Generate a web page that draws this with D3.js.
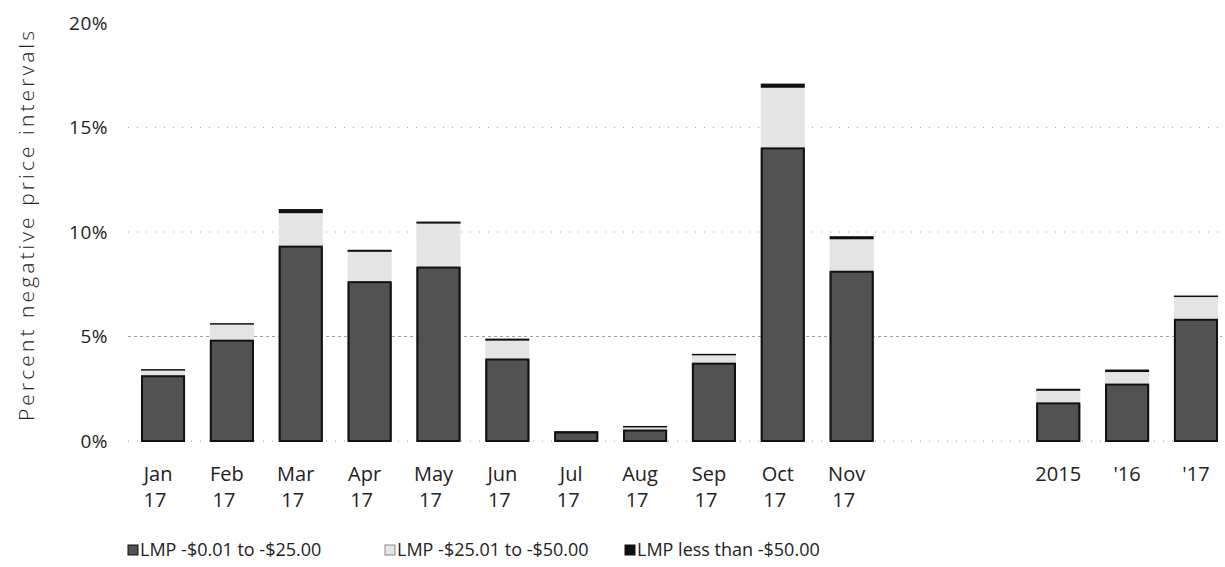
<!DOCTYPE html>
<html lang="en">
<head>
<meta charset="UTF-8">
<title>Negative price intervals</title>
<style>
  body { margin: 0; background: #fff; }
  svg text { font-family: "Open Sans", "DejaVu Sans", sans-serif; fill: #222; }
</style>
</head>
<body>
<svg width="1225" height="567" id="svg"></svg>
<script src="https://d3js.org/d3.v7.min.js"></script>
<script>
    // categories (two empty slots separate the months from the yearly bars)
    const categories = ["Jan", "Feb", "Mar", "Apr", "May", "Jun", "Jul", "Aug", "Sep", "Oct", "Nov", "gap1", "gap2", "2015", "'16", "'17"]
    const labelTop = ["Jan", "Feb", "Mar", "Apr", "May", "Jun", "Jul", "Aug", "Sep", "Oct", "Nov", "", "", "2015", "'16", "'17"]
    const labelBottom = ["17", "17", "17", "17", "17", "17", "17", "17", "17", "17", "17", "", "", "", "", ""]
    const barCategories = ["Jan", "Feb", "Mar", "Apr", "May", "Jun", "Jul", "Aug", "Sep", "Oct", "Nov", "2015", "'16", "'17"]

    // percent of intervals, per price band
    const lmp0to25 = [3.1, 4.8, 9.3, 7.6, 8.3, 3.9, 0.4, 0.5, 3.7, 14.0, 8.1, 1.8, 2.7, 5.8]
    const lmp25to50 = [0.3, 0.8, 1.6, 1.45, 2.1, 0.9, 0.05, 0.2, 0.45, 2.9, 1.55, 0.6, 0.6, 1.1]
    const lmpBelow50 = [0.04, 0.04, 0.2, 0.1, 0.1, 0.1, 0.02, 0.02, 0.02, 0.2, 0.15, 0.1, 0.12, 0.06]

    const seriesNames = ["LMP -$0.01 to -$25.00", "LMP -$25.01 to -$50.00", "LMP less than -$50.00"]
    const yTicks = [0, 5, 10, 15, 20]

    const colors = ["#525252", "#e4e4e4", "#111111"]

    const svg = d3.select("svg#svg")

    const rows = barCategories.map((c, i) => ({
        cat: c,
        s0: lmp0to25[i],
        s1: lmp25to50[i],
        s2: lmpBelow50[i]
    }))
    const stacked = d3.stack().keys(["s0", "s1", "s2"])(rows)

    const xScale = d3.scaleBand().domain(categories).range([141, 1218]).paddingInner(0.36).paddingOuter(0)
    const yScale = d3.scaleLinear().domain([0, 20]).range([441, 23])

    // dotted gridlines
    svg.append("g").selectAll("line").data(yTicks.filter(d => d < 20)).join("line")
        .attr("x1", 128).attr("x2", 1222)
        .attr("y1", d => yScale(d)).attr("y2", d => yScale(d))
        .attr("stroke", "#a0a0a0")
        .attr("stroke-width", 1)
        .attr("stroke-dasharray", d => d === 5 ? "3,3" : "1,8")

    // y axis
    const yAxis = d3.axisLeft(yScale).tickValues(yTicks).tickFormat(d => d + "%").tickSize(0).tickPadding(4)
    const gy = svg.append("g").attr("transform", "translate(112,0)").call(yAxis)
    gy.select(".domain").remove()
    gy.selectAll("text").attr("font-size", 19).attr("letter-spacing", 0.5).attr("fill", "#222").style("font-family", null)

    svg.append("text")
        .attr("transform", "translate(34,226) rotate(-90)")
        .attr("text-anchor", "middle")
        .attr("font-size", 21)
        .attr("font-weight", 300)
        .attr("textLength", 390)
        .text("Percent negative price intervals")

    // bars
    svg.append("g").selectAll("g").data(stacked).join("g")
        .attr("fill", (d, i) => colors[i])
        .selectAll("rect").data(d => d).join("rect")
        .attr("x", d => xScale(d.data.cat))
        .attr("width", xScale.bandwidth())
        .attr("y", d => yScale(d[1]))
        .attr("height", d => Math.max(yScale(d[0]) - yScale(d[1]), 1.5))

    // dark edges on the main band
    svg.append("g").selectAll("rect").data(stacked[0]).join("rect")
        .attr("x", d => xScale(d.data.cat) + 1)
        .attr("width", xScale.bandwidth() - 2)
        .attr("y", d => yScale(d[1]))
        .attr("height", d => yScale(d[0]) - yScale(d[1]))
        .attr("fill", "none")
        .attr("stroke", "#111")
        .attr("stroke-width", 2)

    // x axis, two-line month labels
    const xAxis = d3.axisBottom(xScale).tickSize(0).tickFormat("")
    const gx = svg.append("g").attr("transform", "translate(0,441)").call(xAxis)
    gx.select(".domain").remove()
    gx.selectAll(".tick text").each(function (d) {
        const i = categories.indexOf(d)
        const shift = i < 11 ? -5 : 0
        const t = d3.select(this).attr("y", 26).attr("dy", "0.71em")
            .attr("font-size", 20).attr("fill", "#222").style("font-family", null)
        t.append("tspan").attr("x", shift).text(labelTop[i])
        t.append("tspan").attr("x", shift - 3).attr("dy", "1.3em").text(labelBottom[i])
    })

    // legend
    const legendX = [128, 385, 625]
    const legend = svg.append("g").selectAll("g").data(seriesNames).join("g")
        .attr("transform", (d, i) => `translate(${legendX[i]},556)`)
    legend.append("rect")
        .attr("x", 0).attr("y", -11).attr("width", 10).attr("height", 10)
        .attr("fill", (d, i) => colors[i])
        .attr("stroke", (d, i) => i === 1 ? "#888" : "#111")
    legend.append("text")
        .attr("x", 12)
        .attr("font-size", 18)
        .text(d => d)
</script>
</body>
</html>
